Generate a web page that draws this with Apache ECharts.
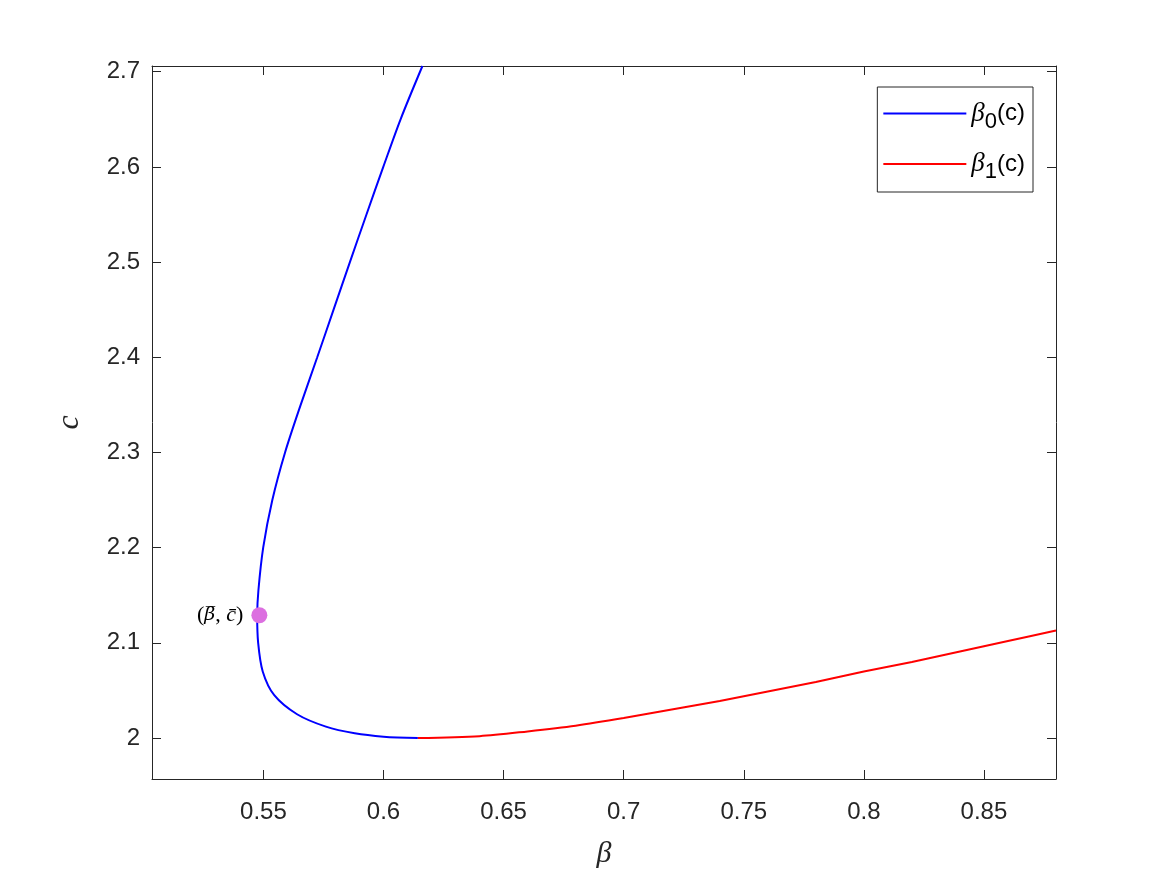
<!DOCTYPE html>
<html>
<head>
<meta charset="utf-8">
<script src="https://cdn.jsdelivr.net/npm/echarts@6/dist/echarts.min.js"></script>
<style>
  html, body { margin: 0; padding: 0; background: #fff; }
  #chart { width: 1167px; height: 875px; }
</style>
</head>
<body>
<div id="chart"></div>
<script>
// beta_0(c) branch (bottom -> turning point -> top)
const blueBeta = [0.6143, 0.6000, 0.5880, 0.5760, 0.5640, 0.5545, 0.5497, 0.5478, 0.5474, 0.5479, 0.5499, 0.5537, 0.5590, 0.5655, 0.5724, 0.5792, 0.5860, 0.5929, 0.5999, 0.6071, 0.6162]
const blueC = [2.000, 2.0015, 2.005, 2.012, 2.025, 2.045, 2.070, 2.100, 2.129, 2.155, 2.200, 2.250, 2.300, 2.350, 2.400, 2.450, 2.500, 2.550, 2.600, 2.650, 2.706]

// beta_1(c) branch
const redBeta = [0.6143, 0.64, 0.66, 0.68, 0.70, 0.72, 0.74, 0.76, 0.78, 0.80, 0.82, 0.84, 0.86, 0.88]
const redC = [2.000, 2.002, 2.007, 2.013, 2.021, 2.030, 2.039, 2.049, 2.059, 2.070, 2.080, 2.091, 2.102, 2.113]

// (beta bar, c bar)
const markBeta = [0.5483]
const markC = [2.129]

const xTicks = [0.55, 0.6, 0.65, 0.7, 0.75, 0.8, 0.85]
const yTicks = [2, 2.1, 2.2, 2.3, 2.4, 2.5, 2.6, 2.7]

const zip = (a, b) => a.map((v, i) => [v, b[i]])

const axisColor = '#262626'
const sans = 'Liberation Sans'
const serif = 'Liberation Serif'

const chart = echarts.init(document.getElementById('chart'))

const boxAxis = {
  type: 'value',
  axisLine: { show: true, onZero: false, lineStyle: { color: axisColor, width: 1 } },
  splitLine: { show: false }
}

chart.setOption({
  animation: false,
  backgroundColor: '#fff',
  grid: { left: 152, right: 111, top: 66, bottom: 96 },
  xAxis: [
    {
      ...boxAxis,
      min: 0.5036,
      max: 0.88,
      position: 'bottom',
      axisTick: { show: true, inside: true, length: 9, customValues: xTicks, lineStyle: { color: axisColor } },
      axisLabel: { customValues: xTicks, color: axisColor, fontFamily: sans, fontSize: 24, margin: 21 },
      name: 'β',
      nameLocation: 'middle',
      nameGap: 60,
      nameTextStyle: { fontFamily: serif, fontStyle: 'italic', fontSize: 30, color: axisColor }
    },
    {
      ...boxAxis,
      min: 0.5036,
      max: 0.88,
      position: 'top',
      axisTick: { show: true, inside: true, length: 9, customValues: xTicks, lineStyle: { color: axisColor } },
      axisLabel: { show: false }
    }
  ],
  yAxis: [
    {
      ...boxAxis,
      min: 1.957,
      max: 2.706,
      position: 'left',
      axisTick: { show: true, inside: true, length: 9, customValues: yTicks, lineStyle: { color: axisColor } },
      axisLabel: { customValues: yTicks, color: axisColor, fontFamily: sans, fontSize: 24, margin: 12 },
      name: 'c',
      nameLocation: 'middle',
      nameGap: 66,
      nameRotate: 90,
      nameTextStyle: { fontFamily: serif, fontStyle: 'italic', fontSize: 32, color: axisColor }
    },
    {
      ...boxAxis,
      min: 1.957,
      max: 2.706,
      position: 'right',
      axisTick: { show: true, inside: true, length: 9, customValues: yTicks, lineStyle: { color: axisColor } },
      axisLabel: { show: false }
    }
  ],
  legend: {
    orient: 'vertical',
    right: 134,
    top: 87,
    padding: [13, 8, 9, 5],
    itemWidth: 83,
    itemHeight: 14,
    itemGap: 18,
    backgroundColor: '#fff',
    borderColor: axisColor,
    borderWidth: 1,
    borderRadius: 0,
    itemStyle: { opacity: 0 },
    data: ['b0', 'b1'],
    formatter: (name) => name === 'b0' ? '{g|β}{s|0}{t|(c)}' : '{g|β}{s|1}{t|(c)}',
    textStyle: {
      color: '#000',
      rich: {
        g: { fontFamily: serif, fontStyle: 'italic', fontSize: 27, color: '#000' },
        s: { fontFamily: sans, fontSize: 22, color: '#000', padding: [16, 0, 0, 0] },
        t: { fontFamily: sans, fontSize: 24, color: '#000' }
      }
    }
  },
  series: [
    {
      name: 'b0',
      type: 'line',
      data: zip(blueBeta, blueC),
      smooth: 0.3,
      symbol: 'none',
      lineStyle: { color: '#0000ff', width: 2 },
      itemStyle: { color: '#0000ff' },
      z: 2
    },
    {
      name: 'b1',
      type: 'line',
      data: zip(redBeta, redC),
      smooth: 0.3,
      symbol: 'none',
      lineStyle: { color: '#ff0000', width: 2 },
      itemStyle: { color: '#ff0000' },
      z: 3
    },
    {
      name: 'mark',
      type: 'scatter',
      data: zip(markBeta, markC),
      symbolSize: 16,
      itemStyle: { color: '#dc6fe0', opacity: 1 },
      label: {
        show: true,
        position: 'left',
        distance: 8,
        // beta with overline needs DejaVu (Liberation lacks the accent anchor)
        formatter: '{p|(}{b|β\u0305}{p|, }{i|c\u0304}{p|)}',
        rich: {
          p: { fontFamily: serif, fontSize: 22, color: '#000' },
          b: { fontFamily: 'DejaVu Serif', fontStyle: 'italic', fontSize: 19, color: '#000' },
          i: { fontFamily: serif, fontStyle: 'italic', fontSize: 22, color: '#000' }
        }
      },
      z: 5
    }
  ]
})
</script>
</body>
</html>
